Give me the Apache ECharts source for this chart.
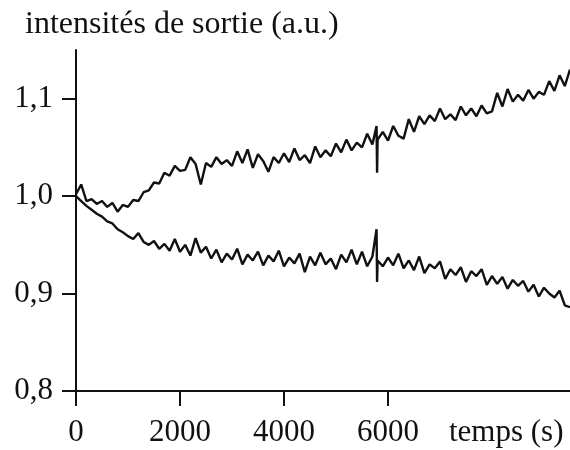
<!DOCTYPE html>
<html>
<head>
<meta charset="utf-8">
<script src="https://cdn.jsdelivr.net/npm/echarts@6/dist/echarts.min.js"></script>
<style>html,body{margin:0;padding:0;background:#fff}#c{width:570px;height:450px}</style>
</head>
<body>
<div id="c"></div>
<script>
var times = [0,100,200,300,400,500,600,700,800,900,1000,1100,1200,1300,1400,1500,1600,1700,1800,1900,
2000,2100,2200,2300,2400,2500,2600,2700,2800,2900,3000,3100,3200,3300,3400,3500,3600,3700,3800,3900,
4000,4100,4200,4300,4400,4500,4600,4700,4800,4900,5000,5100,5200,5300,5400,5500,5600,5700,5780,5790,
5800,5900,6000,6100,6200,6300,6400,6500,6600,6700,6800,6900,7000,7100,7200,7300,7400,7500,7600,7700,
7800,7900,8000,8100,8200,8300,8400,8500,8600,8700,8800,8900,9000,9100,9200,9300,9400,9500];

var upper = [1.002,1.012,0.995,0.997,0.992,0.995,0.989,0.993,0.984,0.991,0.989,0.996,0.995,1.004,1.006,1.014,1.013,1.024,1.021,1.031,
1.026,1.027,1.040,1.033,1.012,1.034,1.030,1.040,1.033,1.037,1.031,1.046,1.034,1.048,1.029,1.043,1.036,1.025,1.040,1.034,
1.044,1.035,1.049,1.037,1.042,1.034,1.051,1.040,1.047,1.041,1.054,1.045,1.058,1.047,1.055,1.050,1.064,1.053,1.072,1.024,
1.058,1.066,1.057,1.072,1.062,1.059,1.079,1.066,1.082,1.074,1.083,1.077,1.090,1.079,1.084,1.078,1.092,1.083,1.090,1.082,
1.093,1.085,1.087,1.106,1.092,1.110,1.097,1.104,1.098,1.109,1.100,1.107,1.104,1.118,1.108,1.124,1.113,1.130];

var lower = [1.000,0.995,0.990,0.986,0.982,0.979,0.974,0.972,0.966,0.963,0.959,0.956,0.962,0.953,0.950,0.954,0.946,0.951,0.944,0.956,
0.943,0.950,0.939,0.957,0.942,0.948,0.936,0.945,0.932,0.941,0.935,0.946,0.930,0.940,0.934,0.943,0.929,0.939,0.933,0.944,
0.928,0.937,0.931,0.941,0.922,0.938,0.929,0.942,0.930,0.936,0.925,0.940,0.932,0.945,0.930,0.943,0.928,0.938,0.966,0.912,
0.934,0.928,0.937,0.929,0.941,0.926,0.934,0.924,0.938,0.921,0.930,0.926,0.933,0.915,0.925,0.919,0.927,0.912,0.923,0.918,
0.925,0.909,0.918,0.910,0.917,0.905,0.914,0.908,0.913,0.902,0.909,0.897,0.906,0.900,0.896,0.903,0.888,0.886];

var xTicks = [0,2000,4000,6000];
var yTicks = [0.8,0.9,1.0,1.1];
var yTitle = 'intensités de sortie (a.u.)';
var xTitle = 'temps (s)';

function pairs(vals){ return times.map(function(t,i){ return [t, vals[i]]; }); }

var FONT = '"Liberation Serif", "DejaVu Serif", serif';
var chart = echarts.init(document.getElementById('c'), null, {renderer:'canvas'});
chart.setOption({
  animation:false,
  backgroundColor:'#fff',
  title:[
    {text:yTitle, left:25, top:9, padding:0, textStyle:{fontFamily:FONT, fontSize:32, fontWeight:'normal', color:'#111'}},
    {text:xTitle, left:449, top:417, padding:0, textStyle:{fontFamily:FONT, fontSize:31, fontWeight:'normal', color:'#111'}}
  ],
  grid:{left:76, right:0, top:50, bottom:59, containLabel:false},
  xAxis:{
    type:'value', min:0, max:9500,
    axisLine:{show:true, lineStyle:{color:'#111', width:2}},
    axisTick:{show:true, customValues:xTicks, length:15, lineStyle:{color:'#111', width:2}},
    axisLabel:{customValues:xTicks, margin:26, fontFamily:FONT, fontSize:31, color:'#111',
      formatter:function(v){ return String(v); }},
    splitLine:{show:false}
  },
  yAxis:{
    type:'value', min:0.8, max:1.15,
    axisLine:{show:true, lineStyle:{color:'#111', width:2}},
    axisTick:{show:true, customValues:yTicks, length:14, lineStyle:{color:'#111', width:2}},
    axisLabel:{customValues:yTicks, margin:23, fontFamily:FONT, fontSize:31, color:'#111',
      formatter:function(v){ return v.toFixed(1).replace('.', ','); }},
    splitLine:{show:false}
  },
  series:[
    {type:'line', data:pairs(upper), showSymbol:false, lineStyle:{color:'#111', width:2.4}},
    {type:'line', data:pairs(lower), showSymbol:false, lineStyle:{color:'#111', width:2.4}}
  ]
});
</script>
</body>
</html>
